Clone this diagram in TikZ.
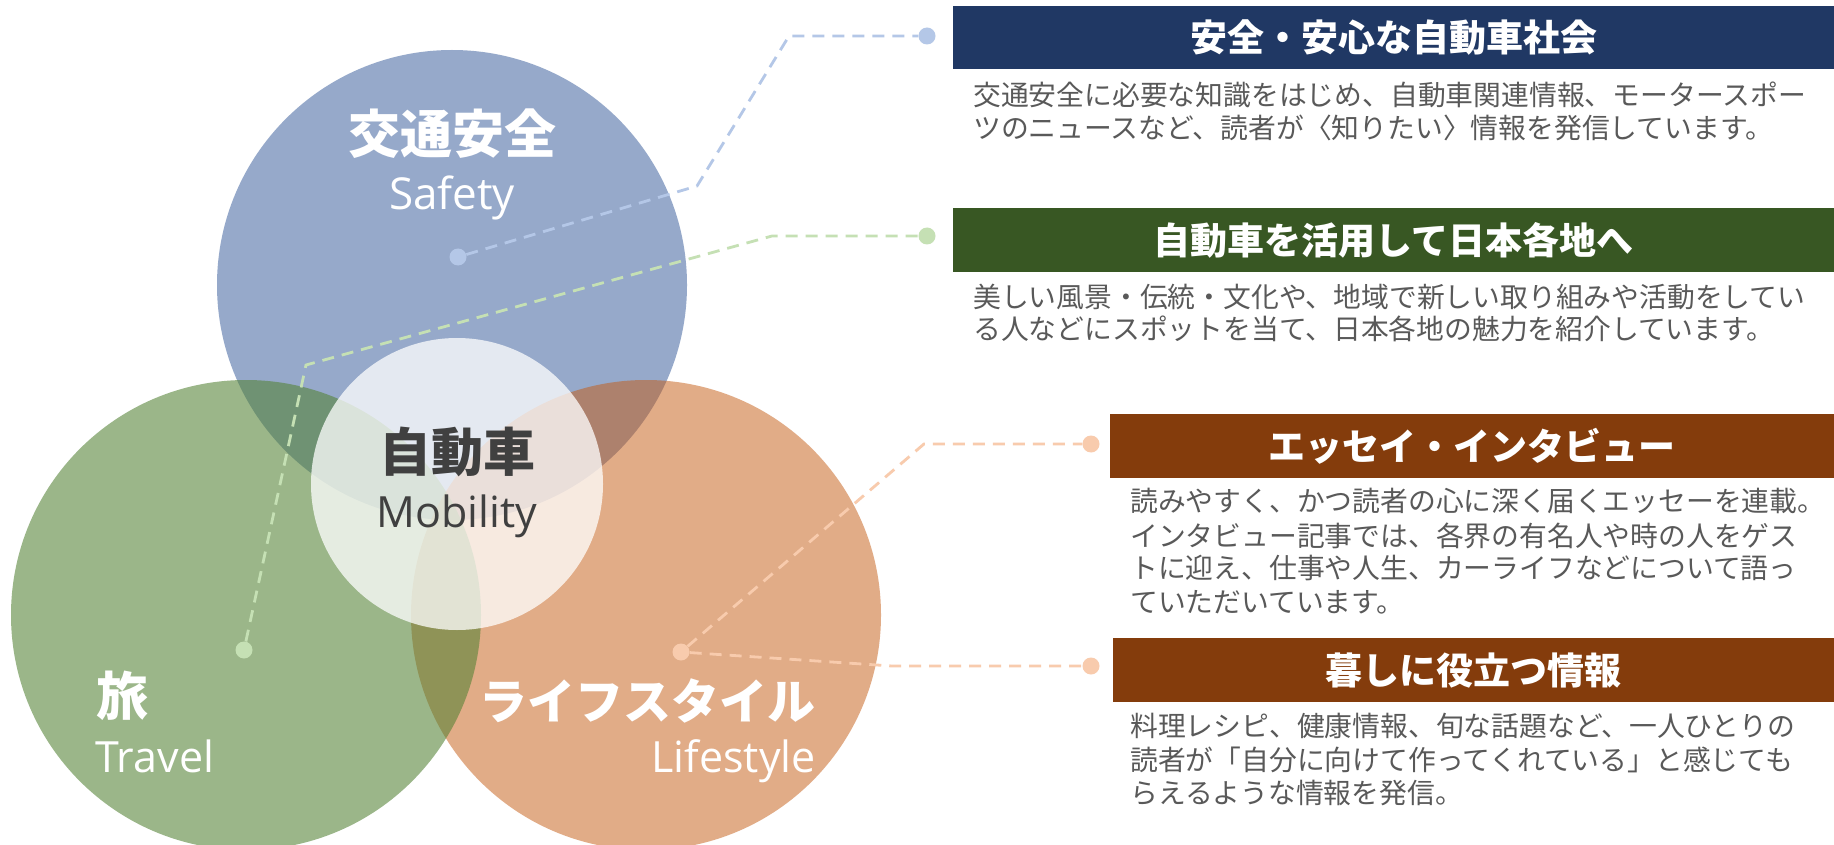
\documentclass[tikz,border=0pt]{standalone}
\usepackage{fontspec}
\setmainfont{Noto Sans CJK JP}
\newfontfamily\latinfont{Open Sans}
\definecolor{cblue}{HTML}{2F5597}
\definecolor{cgreen}{HTML}{548235}
\definecolor{corange}{HTML}{C55A11}
\definecolor{lblue}{HTML}{B4C7E7}
\definecolor{lgreen}{HTML}{C5E0B4}
\definecolor{lorange}{HTML}{F8CBAD}
\definecolor{hnavy}{HTML}{203864}
\definecolor{hgreen}{HTML}{385723}
\definecolor{hbrown}{HTML}{843C0C}
\definecolor{bodygray}{HTML}{595959}
\definecolor{darkgray}{HTML}{404040}
\begin{document}
\begin{tikzpicture}[x=1pt,y=-1pt,
  venn/.style={circle, minimum size=470pt, inner sep=0pt},
  dotb/.style={circle, minimum size=17pt, inner sep=0pt, fill=#1},
  lead/.style={draw=#1, line width=2.8pt, dash pattern=on 12pt off 8pt},
  hbox/.style={fill=#1, anchor=north west, inner sep=0pt, text=white,
    font=\fontsize{37}{40}\selectfont\bfseries},
  body/.style={anchor=base west, inner sep=0pt, text=bodygray,
    font=\fontsize{27.8}{34}\selectfont},
  bigjp/.style={inner sep=0pt, font=\fontsize{52}{56}\selectfont\bfseries},
  biglat/.style={inner sep=0pt, font=\latinfont\fontsize{43}{48}\selectfont}
]
\useasboundingbox (0,0) rectangle (1834,845);
\fill[white] (0,0) rectangle (1834,845);

% circles
\node[venn, fill=cblue, fill opacity=0.5] (cB) at (452,285) {};
\node[venn, fill=corange, fill opacity=0.5] (cO) at (646,615) {};
\node[venn, fill=cgreen, fill opacity=0.58] (cG) at (246,615) {};
\node[circle, minimum size=292pt, inner sep=0pt, fill=white, fill opacity=0.75] (cW) at (457,484) {};

% circle labels
\node[bigjp, text=white] (tB) at (452,134) {交通安全};
\node[biglat, text=white, anchor=base, font=\latinfont\fontsize{44}{48}\selectfont] (tBe) at (452,210) {Safety};
\node[bigjp, text=darkgray] (tW) at (457,452) {自動車};
\node[biglat, text=darkgray, anchor=base] (tWe) at (457,527) {Mobility};
\node[bigjp, text=white, anchor=west] (tG) at (96,696) {旅};
\node[biglat, text=white, anchor=base west] (tGe) at (95,772) {Travel};
\node[bigjp, text=white, anchor=east, font=\fontsize{48}{56}\selectfont\bfseries] (tO) at (816,701) {ライフスタイル};
\node[biglat, text=white, anchor=base east] (tOe) at (816,772) {Lifestyle};

% dots
\node[dotb=lblue] (dB) at (458,257) {};
\node[dotb=lblue] (eB) at (927,36) {};
\node[dotb=lgreen] (dG) at (244,650) {};
\node[dotb=lgreen] (eG) at (927,236) {};
\node[dotb=lorange] (dO) at (681,652) {};
\node[dotb=lorange] (eO1) at (1091,444) {};
\node[dotb=lorange] (eO2) at (1091,666) {};

\coordinate (kB1) at (697,186);
\coordinate (kB2) at (789,36);
\coordinate (kG1) at (306,365);
\coordinate (kG2) at (772,236);
\coordinate (kO1) at (924,444);
\coordinate (kO2) at (892,666);

\draw[lead=lblue] (dB) -- (kB1) -- (kB2) -- (eB);
\draw[lead=lgreen] (dG) -- (kG1) -- (kG2) -- (eG);
\draw[lead=lorange] (dO) -- (kO1) -- (eO1);
\draw[lead=lorange] (dO) -- (kO2) -- (eO2);

% header boxes
\node[hbox=hnavy, minimum width=881pt, minimum height=63pt] (h1) at (953,6) {安全・安心な自動車社会};
\node[hbox=hgreen, minimum width=881pt, minimum height=64pt] (h2) at (953,208) {自動車を活用して日本各地へ};
\node[hbox=hbrown, minimum width=724pt, minimum height=64pt] (h3) at (1110,414) {エッセイ・インタビュー};
\node[hbox=hbrown, minimum width=721pt, minimum height=64pt] (h4) at (1113,638) {暮しに役立つ情報};

% body texts
\node[body] (b1a) at (973,106) {交通安全に必要な知識をはじめ、自動車関連情報、モータースポー};
\node[body] (b1b) at (973,139) {ツのニュースなど、読者が〈知りたい〉情報を発信しています。};
\node[body] (b2a) at (973,307) {美しい風景・伝統・文化や、地域で新しい取り組みや活動をしてい};
\node[body] (b2b) at (973,339) {る人などにスポットを当て、日本各地の魅力を紹介しています。};
\node[body] (b3a) at (1130,511) {読みやすく、かつ読者の心に深く届くエッセーを連載。};
\node[body] (b3b) at (1130,546) {インタビュー記事では、各界の有名人や時の人をゲス};
\node[body] (b3c) at (1130,578) {トに迎え、仕事や人生、カーライフなどについて語っ};
\node[body] (b3d) at (1130,612) {ていただいています。};
\node[body] (b4a) at (1130,736) {料理レシピ、健康情報、旬な話題など、一人ひとりの};
\node[body] (b4b) at (1130,770) {読者が「自分に向けて作ってくれている」と感じても};
\node[body] (b4c) at (1130,803) {らえるような情報を発信。};
\end{tikzpicture}
\end{document}
